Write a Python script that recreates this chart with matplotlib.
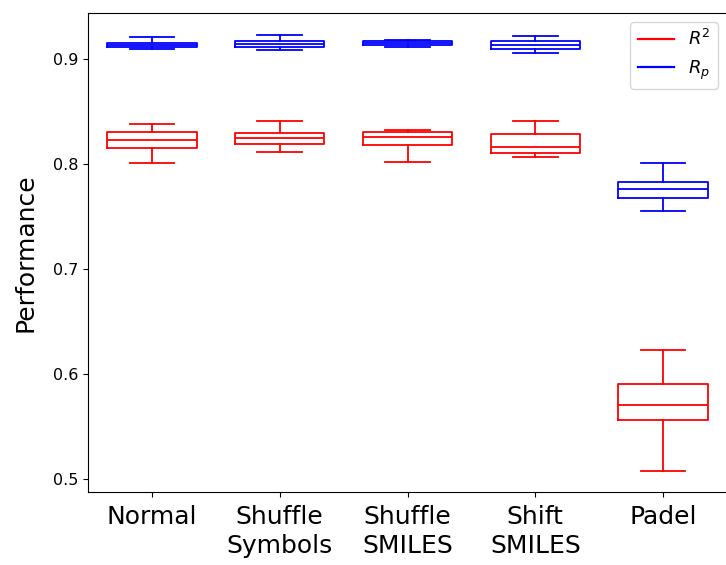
import matplotlib
matplotlib.use("Agg")
import matplotlib.pyplot as plt
from matplotlib.lines import Line2D

categories = ["Normal", "Shuffle\nSymbols", "Shuffle\nSMILES", "Shift\nSMILES", "Padel"]

# R^2 box statistics
r2_whislo = [0.8007, 0.8114, 0.8019, 0.8067, 0.5073]
r2_q1     = [0.8155, 0.8188, 0.8181, 0.8108, 0.5559]
r2_med    = [0.8229, 0.8245, 0.8260, 0.8165, 0.5705]
r2_q3     = [0.8302, 0.8292, 0.8302, 0.8283, 0.5902]
r2_whishi = [0.8384, 0.8412, 0.8324, 0.8410, 0.6232]

# R_p box statistics
rp_whislo = [0.9098, 0.9086, 0.9111, 0.9060, 0.7550]
rp_q1     = [0.9117, 0.9117, 0.9136, 0.9098, 0.7676]
rp_med    = [0.9136, 0.9143, 0.9152, 0.9130, 0.7762]
rp_q3     = [0.9155, 0.9171, 0.9169, 0.9171, 0.7829]
rp_whishi = [0.9207, 0.9231, 0.9181, 0.9216, 0.8012]

def make_stats(lo, q1, med, q3, hi):
    return [dict(whislo=a, q1=b, med=c, q3=d, whishi=e, fliers=[])
            for a, b, c, d, e in zip(lo, q1, med, q3, hi)]

fig = plt.figure(figsize=(7.26, 5.65), dpi=100)
ax = fig.add_axes([88/726, 1 - 492/565, (727-88)/726, (492-13)/565])

positions = list(range(1, len(categories) + 1))
for stats, color in [(make_stats(r2_whislo, r2_q1, r2_med, r2_q3, r2_whishi), "red"),
                     (make_stats(rp_whislo, rp_q1, rp_med, rp_q3, rp_whishi), "blue")]:
    props = dict(color=color, linewidth=1.3)
    ax.bxp(stats, positions=positions, widths=0.7, showfliers=False,
           boxprops=props, whiskerprops=props, capprops=props, medianprops=props)

ax.set_xlim(0.5, 5.5)
ax.set_ylim(0.4876, 0.9438)
ax.set_yticks([0.5, 0.6, 0.7, 0.8, 0.9])
ax.set_xticks(positions)
ax.set_xticklabels(categories, fontsize=18, linespacing=1.25)
ax.tick_params(axis="x", pad=6)
ax.tick_params(axis="y", labelsize=11.5)
ax.set_ylabel("Performance", fontsize=18, labelpad=11)

handles = [Line2D([0], [0], color="red", lw=1.6), Line2D([0], [0], color="blue", lw=1.6)]
ax.legend(handles, ["$R^2$", "$R_p$"], loc="upper right", fontsize=13)

fig.savefig("out.png", dpi=100)
